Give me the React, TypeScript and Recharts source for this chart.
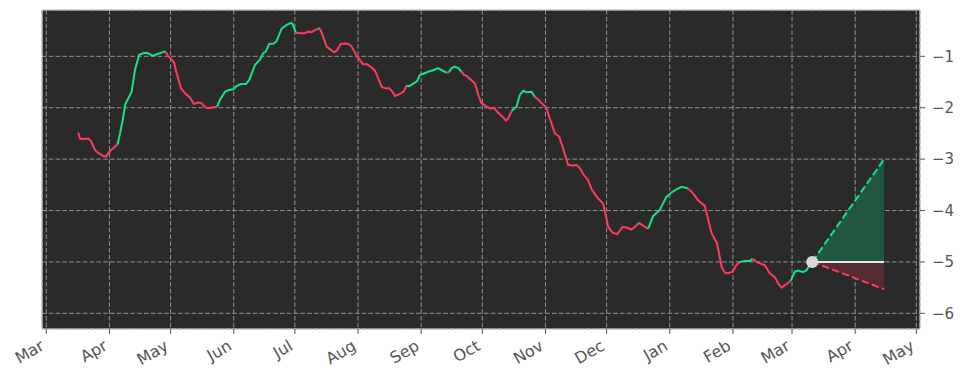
import React from 'react';
import {
  ComposedChart, Line, Area, XAxis, YAxis, CartesianGrid, ReferenceArea, ReferenceDot,
} from 'recharts';

// Days counted from 1 March (year 1); leap February in year 2
const monthTicks = [0, 31, 61, 92, 122, 153, 184, 214, 245, 275, 306, 337, 366, 397, 427];
const monthLabels = ['Mar', 'Apr', 'May', 'Jun', 'Jul', 'Aug', 'Sep', 'Oct', 'Nov', 'Dec', 'Jan', 'Feb', 'Mar', 'Apr', 'May'];
const valueTicks = [-6, -5, -4, -3, -2, -1];

const days = [15.7,16.5,18.2,20.6,21.8,23.9,25.5,28.0,29.3,31.3,32.9,35.0,36.2,37.5,38.8,40.2,41.9,43.5,45.6,47.6,49.3,50.9,52.2,54.2,55.8,57.8,58.6,59.6,61.0,62.7,64.0,66.1,68.1,70.5,72.5,74.3,76.3,77.9,79.5,81.9,83.9,85.2,87.7,89.3,91.8,93.4,95.4,98.0,99.6,102.4,104.9,106.5,107.7,109.4,111.7,113.1,115.5,118.0,120.1,120.9,122.5,124.5,126.9,128.6,130.2,131.8,133.5,134.3,135.9,137.6,139.2,141.2,142.5,144.5,146.6,148.2,149.9,152.3,153.9,155.5,157.2,159.7,161.3,162.9,164.6,166.2,168.3,169.5,171.1,173.6,175.5,176.8,178.1,180.1,182.0,183.4,185.0,187.4,189.9,192.3,194.0,196.5,197.7,198.9,200.5,202.2,203.8,205.0,206.3,207.9,210.4,212.0,213.6,216.1,218.1,219.7,221.3,223.5,225.6,226.7,228.4,230.8,232.4,234.1,235.7,238.2,239.8,241.4,243.1,245.5,247.1,249.6,251.7,253.4,256.1,258.6,260.3,261.9,263.5,265.9,267.6,270.1,273.3,275.8,277.9,280.2,282.8,284.8,287.2,288.9,290.5,291.3,293.8,295.4,297.8,301.1,304.4,306.9,309.3,311.8,315.0,315.8,317.5,319.9,323.2,326.5,329.2,331.4,333.0,334.6,336.8,338.8,340.4,342.8,345.3,346.6,348.6,351.0,352.6,355.1,357.7,359.2,360.8,363.3,365.3,367.4,369.0,371.4,373.1,374.4,375.9];

const values = [-2.48,-2.60,-2.61,-2.60,-2.64,-2.82,-2.88,-2.94,-2.95,-2.84,-2.79,-2.71,-2.50,-2.24,-1.93,-1.82,-1.69,-1.27,-0.97,-0.94,-0.93,-0.96,-0.99,-0.96,-0.94,-0.91,-0.91,-0.99,-1.04,-1.12,-1.33,-1.62,-1.72,-1.80,-1.93,-1.90,-1.91,-1.99,-2.01,-1.99,-1.98,-1.85,-1.69,-1.66,-1.64,-1.58,-1.54,-1.54,-1.46,-1.17,-1.06,-0.94,-0.91,-0.76,-0.75,-0.70,-0.46,-0.39,-0.35,-0.37,-0.54,-0.55,-0.55,-0.52,-0.53,-0.49,-0.46,-0.46,-0.62,-0.81,-0.86,-0.92,-0.89,-0.76,-0.75,-0.76,-0.81,-0.99,-1.07,-1.16,-1.15,-1.22,-1.28,-1.43,-1.59,-1.62,-1.62,-1.67,-1.77,-1.73,-1.68,-1.57,-1.58,-1.53,-1.48,-1.36,-1.34,-1.30,-1.27,-1.23,-1.27,-1.32,-1.31,-1.23,-1.20,-1.23,-1.30,-1.36,-1.38,-1.44,-1.53,-1.75,-1.91,-1.98,-2.02,-2.00,-2.08,-2.16,-2.25,-2.21,-2.06,-1.98,-1.75,-1.67,-1.70,-1.69,-1.79,-1.84,-1.91,-2.01,-2.21,-2.50,-2.56,-2.76,-3.11,-3.13,-3.11,-3.18,-3.29,-3.41,-3.58,-3.73,-3.87,-4.32,-4.43,-4.46,-4.32,-4.33,-4.37,-4.32,-4.25,-4.25,-4.32,-4.35,-4.11,-3.99,-3.73,-3.65,-3.59,-3.54,-3.57,-3.60,-3.67,-3.80,-3.91,-4.44,-4.64,-5.09,-5.21,-5.22,-5.19,-5.06,-5.00,-4.98,-4.98,-4.94,-5.00,-5.04,-5.06,-5.22,-5.30,-5.42,-5.50,-5.43,-5.37,-5.19,-5.17,-5.20,-5.16,-5.08,-5.00];

// indices where the trend colour flips; first run is falling
const trendBreaks = [0, 11, 26, 40, 60, 66, 67, 91, 101, 102, 106, 120, 126, 150, 151, 153, 160, 172, 175, 184];

const forecastDays = [375.9, 411.2];
const forecastBase = -5.0;
const forecastUpper = [-5.0, -3.0];
const forecastLower = [-5.0, -5.53];

const GREEN = '#14e384';
const RED = '#ff3b5c';

const n = Math.min(days.length, values.length);
const points = Array.from({ length: n }, (_, i) => ({ d: days[i], v: values[i] }));
const runs = trendBreaks.map((s, i) => {
  const e = i + 1 < trendBreaks.length ? trendBreaks[i + 1] : n - 1;
  return { up: i % 2 === 1, data: points.slice(s, e + 1) };
});

const upArea = forecastDays.map((d, i) => ({ d, r: [forecastBase, forecastUpper[i]] }));
const downArea = forecastDays.map((d, i) => ({ d, r: [forecastLower[i], forecastBase] }));
const upLine = forecastDays.map((d, i) => ({ d, v: forecastUpper[i] }));
const downLine = forecastDays.map((d, i) => ({ d, v: forecastLower[i] }));
const baseLine = forecastDays.map((d) => ({ d, v: forecastBase }));

const X_DOMAIN: [number, number] = [-2.1, 428.8];
const Y_DOMAIN: [number, number] = [-6.305, -0.099];

const XTick = (props: any) => {
  const { x, y, payload } = props;
  const idx = monthTicks.indexOf(payload.value);
  return (
    <text
      x={0}
      y={0}
      transform={`translate(${x - 1},${y + 13}) rotate(-30)`}
      textAnchor="end"
      fill="#555555"
      fontSize={16}
      fontFamily="DejaVu Sans"
    >
      {monthLabels[idx]}
    </text>
  );
};

export default function App() {
  return (
    <div style={{ position: 'absolute', left: 0, top: 0, background: '#ffffff' }}>
      <ComposedChart
        width={964}
        height={381}
        margin={{ top: 10, right: 0, bottom: 0, left: 42 }}
      >
        <CartesianGrid
          stroke="#939393"
          strokeDasharray="4.6 2.2"
          fill="#2a2a2a"
          fillOpacity={1}
        />
        <XAxis
          type="number"
          dataKey="d"
          domain={X_DOMAIN}
          allowDataOverflow
          ticks={monthTicks}
          tick={<XTick />}
          interval={0}
          height={52}
          tickSize={5}
          tickMargin={2}
          axisLine={false}
          tickLine={{ stroke: '#555555' }}
        />
        <YAxis
          type="number"
          orientation="right"
          domain={Y_DOMAIN}
          allowDataOverflow
          ticks={valueTicks}
          interval={0}
          width={44}
          tickSize={5}
          tickMargin={7}
          axisLine={false}
          tickLine={{ stroke: '#555555' }}
          tick={{ fill: '#555555', fontSize: 15, fontFamily: 'DejaVu Sans' }}
          tickFormatter={(v: number) => (v < 0 ? '\u2212' + Math.abs(v) : String(v))}
        />
        <Area
          data={upArea}
          dataKey="r"
          type="linear"
          stroke="none"
          fill="#215740"
          fillOpacity={1}
          isAnimationActive={false}
        />
        <Area
          data={downArea}
          dataKey="r"
          type="linear"
          stroke="none"
          fill="#552b32"
          fillOpacity={1}
          isAnimationActive={false}
        />
        {runs.map((r, i) => (
          <Line
            key={'run' + i}
            data={r.data}
            dataKey="v"
            type="linear"
            stroke={r.up ? GREEN : RED}
            strokeWidth={2}
            dot={false}
            activeDot={false}
            isAnimationActive={false}
          />
        ))}
        <Line
          data={baseLine}
          dataKey="v"
          type="linear"
          stroke="#e6e6e6"
          strokeWidth={2}
          dot={false}
          activeDot={false}
          isAnimationActive={false}
        />
        <Line
          data={upLine}
          dataKey="v"
          type="linear"
          stroke={GREEN}
          strokeWidth={2}
          strokeDasharray="7.4 3.2"
          dot={false}
          activeDot={false}
          isAnimationActive={false}
        />
        <Line
          data={downLine}
          dataKey="v"
          type="linear"
          stroke={RED}
          strokeWidth={2}
          strokeDasharray="7.4 3.2"
          dot={false}
          activeDot={false}
          isAnimationActive={false}
        />
        <ReferenceDot
          x={forecastDays[0]}
          y={forecastBase}
          r={6}
          fill="#d9d9d9"
          stroke="none"
        />
        <ReferenceArea
          x1={X_DOMAIN[0]}
          x2={X_DOMAIN[1]}
          y1={Y_DOMAIN[0]}
          y2={Y_DOMAIN[1]}
          fill="none"
          stroke="#cfcfcf"
          strokeWidth={1}
        />
      </ComposedChart>
    </div>
  );
}
